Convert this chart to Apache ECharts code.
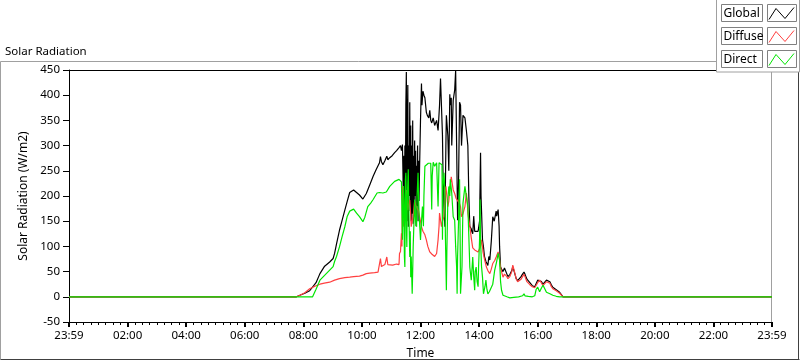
<!DOCTYPE html>
<html>
<head>
<meta charset="utf-8">
<script src="https://cdn.jsdelivr.net/npm/echarts@6/dist/echarts.min.js"></script>
<style>
  html, body { margin: 0; padding: 0; background: #fff; }
  #chart { width: 800px; height: 361px; }
</style>
</head>
<body>
<div id="chart"></div>
<script>
// x = minutes of the day, the axis starts at 23:59 of the day before
var tickLabels = ['23:59', '02:00', '04:00', '06:00', '08:00', '10:00', '12:00',
  '14:00', '16:00', '18:00', '20:00', '22:00', '23:59'];

var globalData = [[-1,0],[465,0],[472,3],[482,7],[492,12],[496,14],[505,28],[513,46],[522,60],[533,69],[540,76],[543,86],[547,105],[553,132],[558,150],[564,172],[569,190],[574,207],[578,210],[582,212],[588,207],[594,202],[601,194],[608,205],[615,222],[622,239],[628,252],[635,266],[637,278],[639,268],[642,262],[646,270],[650,279],[652,272],[656,276],[661,280],[666,286],[670,290],[675,296],[678,300],
  [680,290],[682,302],[683,250],[684,180],[685,280],[686,160],[687,300],[688,200],[689,380],[690,446],[691,150],[692,330],[693,420],[694,139],[695,300],[696,200],[697,386],[698,170],[699,340],[700,150],[701,300],[702,165],[703,350],[704,145],[705,280],[706,160],[707,310],[708,200],[709,290],[710,140],[711,260],[712,180],[713,300],[714,150],[715,270],[716,190],[717,250],[718,300],[719,350],[721,423],[722,380],[724,408],[726,400],[728,395],[731,366],[733,360],[736,355],[738,370],[740,350],[742,345],[745,355],[748,340],[752,350],[755,330],[758,380],[760,433],[762,430],[764,320],[765,250],[767,180],[769,139],[771,300],[772,360],[775,320],[777,250],[779,402],[780,380],[782,395],[783,300],[786,390],[789,410],[791,449],[793,300],[795,152],[797,230],[799,386],[801,380],[803,300],[806,360],[810,355],[813,330],[816,300],[818,200],[820,140],[823,135],[824,130],[826,125],[828,160],[830,130],[833,128],[837,130],[840,150],[842,286],[843,200],[846,113],[848,99],[850,80],[853,70],[857,62],[859,80],[861,73],[864,110],[867,159],[870,150],[874,170],[875,160],[878,173],[880,140],[881,100],[883,59],[885,55],[888,50],[891,57],[896,45],[898,40],[902,44],[906,52],[908,60],[911,50],[915,36],[918,32],[922,30],[925,40],[928,45],[931,49],[933,45],[937,35],[943,28],[948,22],[953,20],[956,23],[959,33],[963,36],[967,30],[970,25],[974,28],[977,33],[980,30],[984,30],[987,24],[990,19],[997,14],[1004,9],[1011,0],[1439,0]];

var diffuseData = [[-1,0],[465,0],[472,3],[482,8],[492,16],[505,22],[513,25],[522,27],[533,29],[543,33],[553,36],[564,38],[574,39],[582,40],[594,41],[601,43],[608,46],[615,47],[625,48],[632,49],[635,52],[637,76],[639,60],[642,62],[646,64],[650,79],[652,64],[656,62],[662,63],[670,65],[675,64],[676,86],[678,90],[680,126],[681,100],[682,219],[683,150],[685,139],[687,180],[689,200],[690,212],[692,190],[693,172],[695,185],[697,192],[699,160],[700,139],[702,150],[704,159],[707,190],[709,182],[711,185],[713,180],[715,170],[717,159],[719,150],[721,139],[724,130],[728,123],[731,113],[734,100],[738,89],[742,85],[745,83],[748,80],[752,86],[755,113],[757,140],[758,166],[760,168],[762,139],[764,150],[767,159],[769,190],[771,219],[773,200],[775,179],[777,190],[779,215],[782,238],[784,225],[786,212],[789,205],[792,195],[796,192],[799,185],[801,179],[803,159],[806,165],[810,179],[813,206],[815,185],[816,166],[820,140],[823,117],[826,97],[830,93],[833,91],[837,89],[840,89],[842,100],[844,113],[846,100],[847,89],[850,75],[854,59],[857,52],[861,46],[864,55],[867,66],[871,72],[874,79],[878,89],[880,80],[883,59],[885,50],[888,39],[891,45],[896,40],[898,36],[902,40],[906,50],[908,63],[911,52],[915,36],[918,30],[922,28],[925,35],[928,40],[931,45],[933,40],[937,30],[943,24],[948,20],[953,18],[956,20],[959,28],[963,33],[967,27],[970,22],[974,25],[977,30],[980,28],[984,27],[987,20],[990,16],[997,12],[1004,7],[1011,0],[1439,0]];

var directData = [[-1,0],[498,0],[505,15],[513,33],[520,40],[526,46],[533,53],[540,60],[543,70],[547,80],[553,99],[558,118],[564,139],[569,160],[574,170],[582,174],[588,166],[594,159],[601,149],[605,158],[611,179],[617,186],[622,193],[630,206],[635,207],[642,206],[649,208],[656,219],[661,224],[666,229],[670,231],[675,233],[678,230],[680,228],[682,113],[684,220],[685,193],[686,80],[687,59],[688,230],[689,246],[690,150],[691,99],[692,200],[694,253],[695,180],[697,79],[698,130],[699,39],[700,80],[702,6],[703,50],[704,99],[706,160],[707,193],[709,150],[711,139],[712,200],[714,246],[715,200],[716,166],[718,130],[719,113],[721,150],[723,179],[725,140],[726,200],[728,259],[731,262],[735,265],[738,262],[740,265],[742,173],[743,240],[745,267],[748,259],[752,266],[755,179],[757,266],[760,264],[763,262],[764,113],[765,220],[767,246],[769,206],[770,120],[772,13],[773,90],[775,193],[777,219],[779,200],[780,233],[783,206],[786,159],[789,152],[791,100],[793,59],[794,6],[795,80],[797,152],[799,233],[800,140],[801,6],[803,3],[804,60],[806,186],[810,219],[813,219],[816,179],[818,120],[820,59],[823,33],[826,79],[828,40],[830,13],[831,50],[833,59],[835,30],[837,20],[838,60],[840,113],[841,193],[842,113],[844,60],[846,39],[848,6],[851,20],[853,33],[855,15],[857,6],[860,10],[864,13],[867,25],[871,53],[875,70],[878,86],[881,73],[883,30],[885,13],[888,3],[891,2],[896,0],[902,-2],[910,-1],[920,0],[928,2],[931,6],[933,2],[940,1],[948,0],[953,2],[956,15],[959,19],[963,10],[967,18],[970,23],[974,15],[977,9],[984,6],[990,3],[997,1],[1004,0],[1439,0]];

var seriesNames = ['Global', 'Diffuse', 'Direct'];
var seriesColors = ['#000000', '#ff4040', '#00e600'];

function shift(arr) {
  // axis value 0 is 23:59 of the day before
  return arr.map(function (p) { return [p[0] + 1, p[1]]; });
}

var font = 'Noto Sans';
var chart = echarts.init(document.getElementById('chart'));

// legend boxes drawn like the LabVIEW plot legend
var legendGraphics = [
  { type: 'rect', shape: { x: 716.5, y: -1, width: 83, height: 73 },
    style: { fill: '#fff', stroke: '#a0a0a0', lineWidth: 1 }, z: 10 }
];
seriesNames.forEach(function (name, i) {
  var top = 4.5 + i * 23;
  legendGraphics.push({ type: 'rect', shape: { x: 721.5, y: top, width: 41, height: 17 },
    style: { fill: '#fff', stroke: '#808080', lineWidth: 1 }, z: 11 });
  legendGraphics.push({ type: 'text', x: 723.5, y: top + 9,
    style: { text: name, font: '12px ' + font, fill: '#000', textVerticalAlign: 'middle' }, z: 12 });
  legendGraphics.push({ type: 'rect', shape: { x: 767.5, y: top, width: 29, height: 17 },
    style: { fill: '#fff', stroke: '#808080', lineWidth: 1 }, z: 11 });
  legendGraphics.push({ type: 'polyline',
    shape: { points: [[769, top + 15], [776, top + 4], [785, top + 14], [794, top + 3]] },
    style: { stroke: seriesColors[i], lineWidth: 1, fill: null }, z: 12 });
});

var option = {
  animation: false,
  backgroundColor: '#fff',
  textStyle: { fontFamily: font },
  grid: { left: 69, top: 70, width: 703, height: 252, containLabel: false, outerBoundsMode: 'none' },
  xAxis: {
    type: 'value',
    min: 0, max: 1440, interval: 120,
    name: 'Time', nameLocation: 'middle', nameGap: 26,
    nameTextStyle: { fontSize: 12, color: '#000' },
    axisLine: { show: true, onZero: false, lineStyle: { color: '#000', width: 1 } },
    axisTick: { show: true, length: 5, lineStyle: { color: '#000', width: 2 } },
    minorTick: { show: true, splitNumber: 8, length: 3, lineStyle: { color: '#000', width: 1 } },
    splitLine: { show: false },
    axisLabel: {
      margin: 8, fontSize: 11.5, color: '#000',
      formatter: function (v) { return tickLabels[Math.round(v / 120)]; }
    }
  },
  yAxis: {
    type: 'value',
    min: -50, max: 450, interval: 50,
    name: 'Solar Radiation (W/m2)', nameLocation: 'middle', nameGap: 37,
    nameTextStyle: { fontSize: 12, color: '#000' },
    axisLine: { show: true, onZero: false, lineStyle: { color: '#000', width: 1 } },
    axisTick: { show: true, length: 6, lineStyle: { color: '#000' } },
    splitLine: { show: false },
    axisLabel: { margin: 9, fontSize: 11.5, color: '#000' }
  },
  series: [
    { name: seriesNames[0], type: 'line', data: shift(globalData), showSymbol: false,
      lineStyle: { color: seriesColors[0], width: 1.2 }, itemStyle: { color: seriesColors[0] }, z: 2 },
    { name: seriesNames[1], type: 'line', data: shift(diffuseData), showSymbol: false,
      lineStyle: { color: seriesColors[1], width: 1.2 }, itemStyle: { color: seriesColors[1] }, z: 3 },
    { name: seriesNames[2], type: 'line', data: shift(directData), showSymbol: false,
      lineStyle: { color: seriesColors[2], width: 1.2 }, itemStyle: { color: seriesColors[2] }, z: 4 }
  ],
  graphic: [
    // outer frame
    { type: 'line', shape: { x1: 0.5, y1: 61.5, x2: 716, y2: 61.5 }, style: { stroke: '#a0a0a0' } },
    { type: 'line', shape: { x1: 0.5, y1: 61.5, x2: 0.5, y2: 359.5 }, style: { stroke: '#a0a0a0' } },
    { type: 'line', shape: { x1: 0.5, y1: 359.5, x2: 799.5, y2: 359.5 }, style: { stroke: '#404040' } },
    { type: 'line', shape: { x1: 798.5, y1: 72, x2: 798.5, y2: 359.5 }, style: { stroke: '#404040' } },
    // plot area border
    { type: 'line', shape: { x1: 68, y1: 70.5, x2: 772, y2: 70.5 }, style: { stroke: '#000' } },
    { type: 'line', shape: { x1: 771.5, y1: 70.5, x2: 771.5, y2: 322 }, style: { stroke: '#a0a0a0' } },
    { type: 'text', x: 5, y: 45.5,
      style: { text: 'Solar Radiation', font: '11.5px ' + font, fill: '#000' } }
  ].concat(legendGraphics)
};
chart.setOption(option);
</script>
</body>
</html>
